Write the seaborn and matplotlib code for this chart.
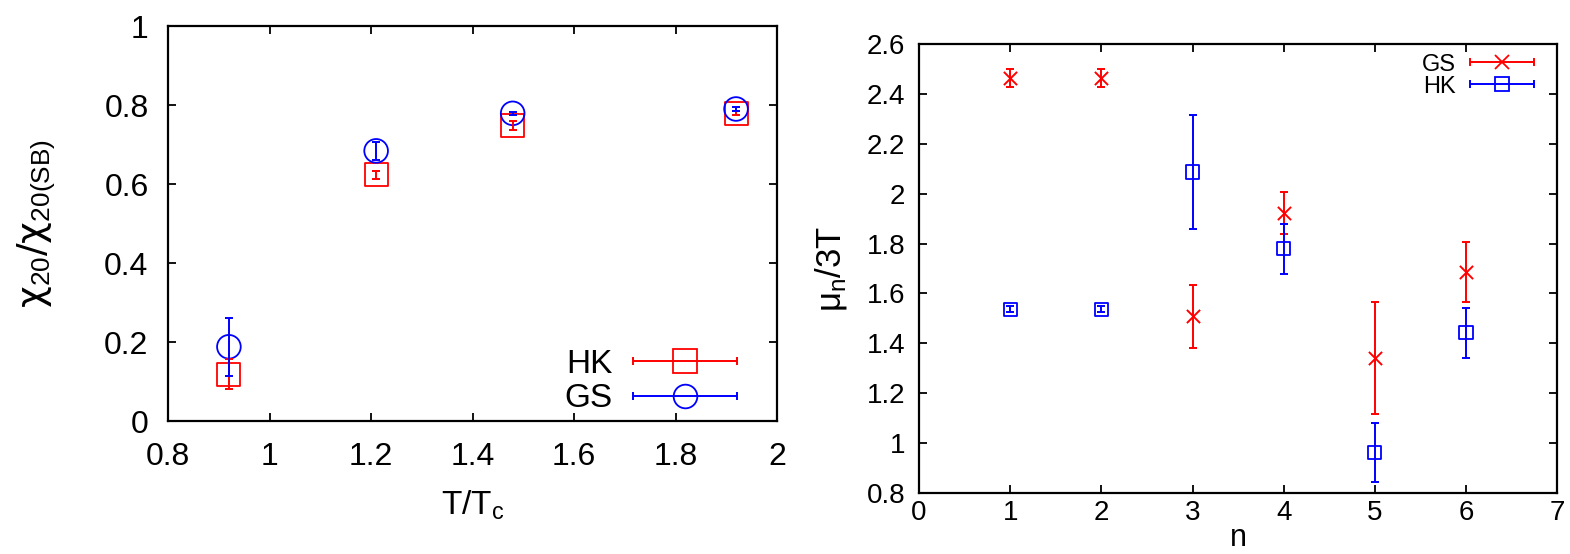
import matplotlib
matplotlib.use('Agg')
import matplotlib.pyplot as plt
import seaborn as sns
from matplotlib.lines import Line2D
from matplotlib.container import ErrorbarContainer
from matplotlib.legend_handler import HandlerErrorbar

# 左图: chi20/chi20(SB) vs T/Tc
T = [0.92, 1.21, 1.479, 1.919]
hk_chi = [0.119, 0.623, 0.749, 0.779]
hk_err = [0.039, 0.011, 0.011, 0.005]
gs_chi = [0.188, 0.684, 0.779, 0.790]
gs_err = [0.074, 0.022, 0.004, 0.005]

# 右图: mu_n/3T vs n
n = [1, 2, 3, 4, 5, 6]
gs_mu = [2.463, 2.463, 1.509, 1.923, 1.341, 1.686]
gs_mu_err = [0.035, 0.035, 0.127, 0.083, 0.224, 0.12]
hk_mu = [1.537, 1.537, 2.087, 1.78, 0.961, 1.442]
hk_mu_err = [0.012, 0.012, 0.23, 0.1, 0.118, 0.099]

left_xticks = [0.8, 1, 1.2, 1.4, 1.6, 1.8, 2]
left_xlabels = ['0.8', '1', '1.2', '1.4', '1.6', '1.8', '2']
left_yticks = [0, 0.2, 0.4, 0.6, 0.8, 1]
left_ylabels = ['0', '0.2', '0.4', '0.6', '0.8', '1']
right_xticks = [0, 1, 2, 3, 4, 5, 6, 7]
right_xlabels = ['0', '1', '2', '3', '4', '5', '6', '7']
right_yticks = [0.8, 1, 1.2, 1.4, 1.6, 1.8, 2, 2.2, 2.4, 2.6]
right_ylabels = ['0.8', '1', '1.2', '1.4', '1.6', '1.8', '2', '2.2', '2.4', '2.6']

sns.set_style('ticks')
plt.rcParams['font.family'] = ['Liberation Sans', 'DejaVu Sans']
plt.rcParams['mathtext.fontset'] = 'custom'
plt.rcParams['mathtext.rm'] = 'Liberation Sans'
plt.rcParams['mathtext.it'] = 'Liberation Sans:italic'
# gnuplot风格: 纯黑文字和刻度
for k in ['text.color', 'axes.labelcolor', 'xtick.color', 'ytick.color', 'axes.edgecolor']:
    plt.rcParams[k] = 'black'

RED = '#ff0000'
BLUE = '#0000ff'

fig = plt.figure(figsize=(15.7, 5.54), dpi=100)
ax1 = fig.add_axes([0.107, 0.240, 0.388, 0.713])
ax2 = fig.add_axes([0.5854, 0.110, 0.4064, 0.8105])


def draw(ax, x, y, err, color, marker, s, label):
    if marker == 'x':
        sns.scatterplot(x=x, y=y, marker=marker, s=s, ax=ax, legend=False,
                        color=color, linewidth=1.4, zorder=3)
    else:
        sns.scatterplot(x=x, y=y, marker=marker, s=s, ax=ax, legend=False,
                        facecolors='none', edgecolor=color, linewidth=1.3, zorder=3)
    cont = ax.errorbar(x, y, yerr=err, fmt='none', ecolor=color,
                       elinewidth=1.4, capsize=3, capthick=1.4, zorder=4)
    # 图例里用横向误差棒 (gnuplot风格)
    ms = (s ** 0.5)
    proxy = Line2D([], [], linestyle='none', marker=marker, markersize=ms,
                   markerfacecolor='none', markeredgecolor=color,
                   markeredgewidth=1.3, color=color)
    return ErrorbarContainer((proxy, cont[1], cont[2]),
                             has_xerr=True, has_yerr=False, label=label)


# 左图
h_hk = draw(ax1, T, hk_chi, hk_err, RED, 's', 275, 'HK')
h_gs = draw(ax1, T, gs_chi, gs_err, BLUE, 'o', 290, 'GS')

ax1.set_xlim(0.8, 2)
ax1.set_ylim(0, 1)
ax1.set_xticks(left_xticks, left_xlabels)
ax1.set_yticks(left_yticks, left_ylabels)
ax1.tick_params(axis='both', direction='in', length=6, width=1.3,
                top=True, right=True, labelsize=23)
ax1.tick_params(axis='y', pad=14)
ax1.tick_params(axis='x', pad=15)
ax1.set_xlabel(r'T/T$_{\mathrm{c}}$', fontsize=24, labelpad=12)
ax1.set_ylabel(r'χ$_{\mathrm{20}}$/χ$_{\mathrm{20(SB)}}$', fontsize=27, labelpad=34,
               family=['DejaVu Sans'])
ax1.legend(handles=[h_hk, h_gs], loc='lower right', bbox_to_anchor=(0.962, -0.025),
           frameon=False, markerfirst=False, fontsize=24, handlelength=3.15,
           handletextpad=0.6, labelspacing=0.1, borderpad=0.0, numpoints=1,
           handler_map={ErrorbarContainer: HandlerErrorbar(xerr_size=1.57)})

# 右图
g_gs = draw(ax2, n, gs_mu, gs_mu_err, RED, 'x', 90, 'GS')
g_hk = draw(ax2, n, hk_mu, hk_mu_err, BLUE, 's', 90, 'HK')

ax2.set_xlim(0, 7)
ax2.set_ylim(0.8, 2.6)
ax2.set_xticks(right_xticks, right_xlabels)
ax2.set_yticks(right_yticks, right_ylabels)
ax2.tick_params(axis='both', direction='in', length=6, width=1.3,
                top=True, right=True, labelsize=20)
ax2.tick_params(axis='y', pad=10)
ax2.tick_params(axis='x', pad=5)
ax2.set_xlabel('n', fontsize=22, labelpad=-2)
ax2.set_ylabel(r'μ$_{\mathrm{n}}$/3T', fontsize=25, labelpad=13)
ax2.legend(handles=[g_gs, g_hk], loc='upper right', bbox_to_anchor=(0.983, 1.005),
           frameon=False, markerfirst=False, fontsize=17, handlelength=2.75,
           handletextpad=0.6, labelspacing=0.0, borderpad=0.0, numpoints=1,
           handler_map={ErrorbarContainer: HandlerErrorbar(xerr_size=1.37)})

for ax in (ax1, ax2):
    for sp in ax.spines.values():
        sp.set_linewidth(1.6)
        sp.set_color('black')

fig.savefig('out.png', dpi=100)
